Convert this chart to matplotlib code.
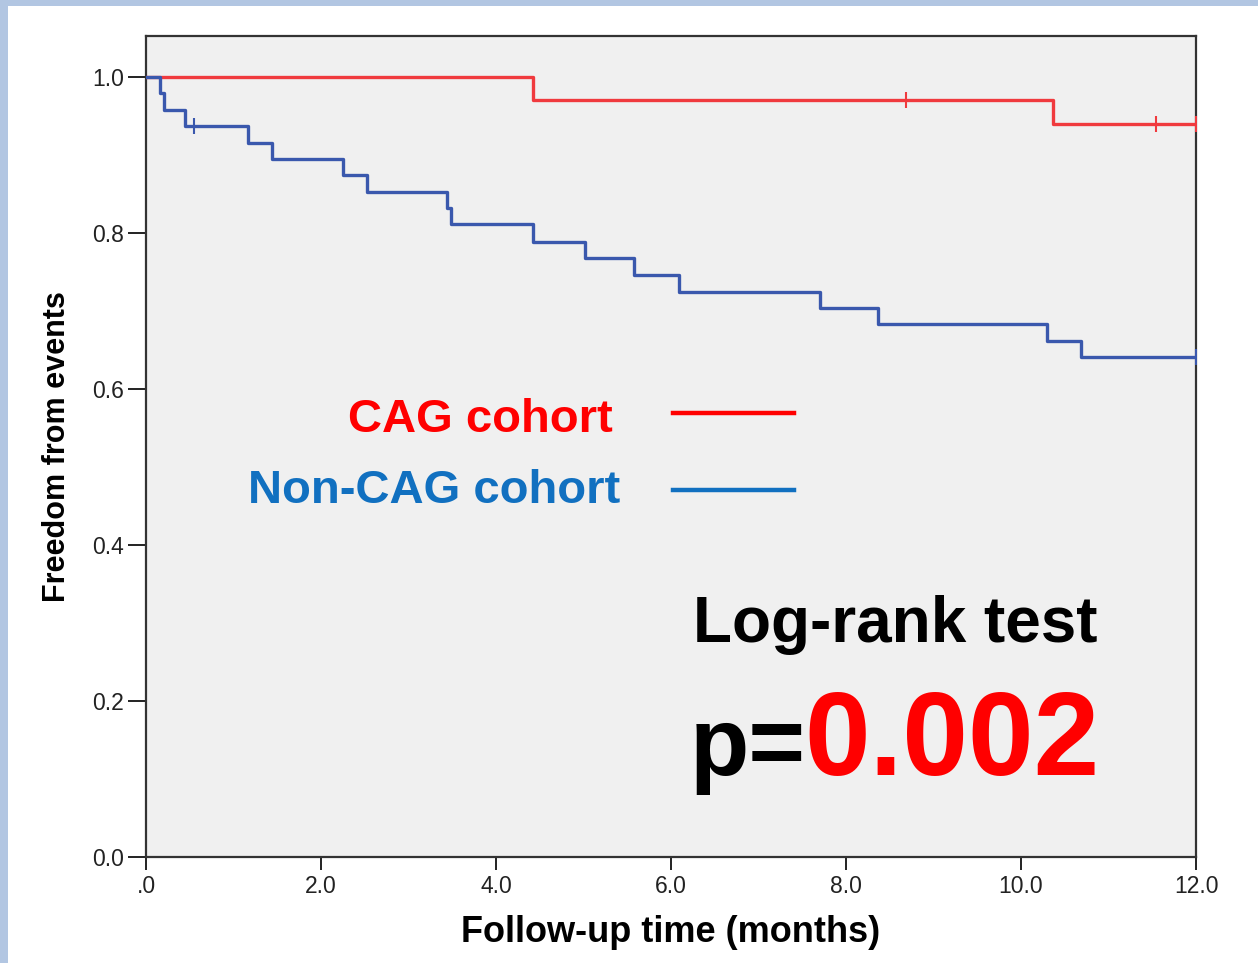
import matplotlib.pyplot as plt
from matplotlib.patches import Rectangle

plt.rcParams['font.family'] = ['Liberation Sans', 'DejaVu Sans']

# Kaplan-Meier steps
cag_time = [0.0, 4.42, 10.37, 12.0]
cag_surv = [1.0, 0.970, 0.940, 0.940]
cag_cens_time = [8.69, 11.54, 12.0]
cag_cens_surv = [0.970, 0.940, 0.940]

non_time = [0.0, 0.16, 0.20, 0.45, 1.17, 1.44, 2.25, 2.52, 3.44, 3.48,
            4.42, 5.02, 5.58, 6.09, 7.70, 8.36, 10.30, 10.69, 12.0]
non_surv = [1.0, 0.979, 0.958, 0.937, 0.916, 0.895, 0.874, 0.853, 0.832, 0.811,
            0.789, 0.768, 0.746, 0.725, 0.704, 0.683, 0.662, 0.641, 0.641]
non_cens_time = [0.55, 12.0]
non_cens_surv = [0.937, 0.641]

x_ticks = [0, 2, 4, 6, 8, 10, 12]
x_tick_labels = ['.0', '2.0', '4.0', '6.0', '8.0', '10.0', '12.0']
y_ticks = [0.0, 0.2, 0.4, 0.6, 0.8, 1.0]
y_tick_labels = ['0.0', '0.2', '0.4', '0.6', '0.8', '1.0']

red_km = '#F03A3E'
blue_km = '#3A58AD'
blue_txt = '#1170C0'

fig = plt.figure(figsize=(12.58, 9.63), dpi=100)
fig.patch.set_facecolor('white')
# light blue slide border on top and left
fig.patches.append(Rectangle((0, 1 - 6 / 963), 1, 6 / 963, transform=fig.transFigure,
                             facecolor='#B2C6E2', edgecolor='none', zorder=0))
fig.patches.append(Rectangle((0, 0), 8 / 1258, 1, transform=fig.transFigure,
                             facecolor='#B2C6E2', edgecolor='none', zorder=0))

ax = fig.add_axes([146 / 1258, 1 - 857 / 963, (1196 - 146) / 1258, (857 - 36) / 963])
ax.set_facecolor('#F0F0F0')

ax.step(cag_time, cag_surv, where='post', color=red_km, linewidth=2.4, zorder=3)
ax.step(non_time, non_surv, where='post', color=blue_km, linewidth=2.4, zorder=3)
ax.plot(cag_cens_time, cag_cens_surv, linestyle='none', marker='|', markersize=11,
        markeredgewidth=1.5, color=red_km, zorder=4)
ax.plot(non_cens_time, non_cens_surv, linestyle='none', marker='|', markersize=11,
        markeredgewidth=1.5, color=blue_km, zorder=4)

ax.set_xlim(0, 12)
ax.set_ylim(0, 1.0526)
ax.set_xticks(x_ticks)
ax.set_xticklabels(x_tick_labels)
ax.set_yticks(y_ticks)
ax.set_yticklabels(y_tick_labels)
ax.tick_params(axis='y', length=13, width=1.4, pad=3, labelsize=16.5, colors='#222222')
ax.tick_params(axis='x', length=9, width=1.4, pad=4, labelsize=16.5, colors='#222222')
for side in ['left', 'bottom', 'right', 'top']:
    ax.spines[side].set_linewidth(1.6)
    ax.spines[side].set_color('#333333')

ax.set_xlabel('Follow-up time (months)', fontsize=26, fontweight='bold', labelpad=12)
ax.set_ylabel('Freedom from events', fontsize=22, fontweight='bold', labelpad=14)

# legend drawn as text plus lines
ax.text(5.337, 0.545, 'CAG cohort', color='#FF0000', fontsize=34, fontweight='bold',
        ha='right', va='baseline')
ax.text(5.417, 0.4538, 'Non-CAG cohort', color=blue_txt, fontsize=34, fontweight='bold',
        ha='right', va='baseline')
ax.plot([6.023, 7.406], [0.5692, 0.5692], color='#FF0000', linewidth=3.2)
ax.plot([6.023, 7.406], [0.4705, 0.4705], color=blue_txt, linewidth=3.2)

ax.text(6.25, 0.2756, 'Log-rank test', color='black', fontsize=46, fontweight='bold',
        ha='left', va='baseline')
ax.text(6.21, 0.1051, 'p=', color='black', fontsize=70, fontweight='bold',
        ha='left', va='baseline')
ax.text(7.52, 0.1051, '0.002', color='#FF0000', fontsize=85, fontweight='bold',
        ha='left', va='baseline')

plt.savefig('out.png', dpi=100)
